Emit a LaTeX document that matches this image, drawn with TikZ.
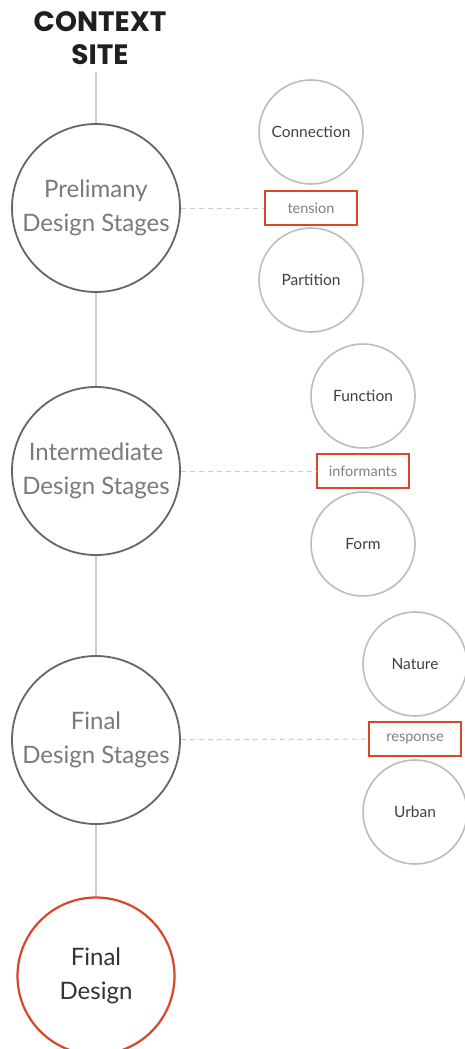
\documentclass[tikz,border=0pt]{standalone}
\usepackage{fontspec}
\setmainfont{Lato}
\newfontfamily\titlefont{Poppins}
\definecolor{accent}{HTML}{D9472B}
\definecolor{stagegray}{HTML}{666666}
\definecolor{stagetext}{HTML}{7A7A7A}
\definecolor{ringgray}{HTML}{BDBDBD}
\definecolor{linkgray}{HTML}{CCCCCC}
\begin{document}
\begin{tikzpicture}[x=1pt,y=-1pt,
  stage/.style={circle,draw=stagegray,line width=1.8pt,minimum size=168pt,inner sep=0pt,
    align=center,text=stagetext,font=\fontsize{24}{34}\selectfont},
  finalstage/.style={circle,draw=accent,line width=2.2pt,minimum size=157pt,inner sep=0pt,
    align=center,text=black!80,font=\fontsize{24}{34}\selectfont},
  facet/.style={circle,draw=ringgray,line width=1.6pt,minimum size=104pt,inner sep=0pt,
    text=black!75,font=\fontsize{15.5}{18}\selectfont},
  tag/.style={draw=accent,line width=1.6pt,minimum width=92pt,minimum height=34pt,inner sep=0pt,
    text=black!50,font=\fontsize{14.5}{16}\selectfont},
  spine/.style={draw=linkgray,line width=1.4pt},
  tie/.style={draw=linkgray,line width=1pt,dash pattern=on 5pt off 4pt}]
\useasboundingbox (0,0) rectangle (465,1049);
\fill[white] (0,0) rectangle (465,1049);

% title
\node[align=center,text=black!88,font=\titlefont\bfseries\fontsize{28}{33}\selectfont] (title) at (100,38) {CONTEXT\\SITE};
\coordinate (top) at (96,72);

% main stages
\node[stage] (s1) at (96,208) {Prelimany\\Design Stages};
\node[stage] (s2) at (96,471) {Intermediate\\Design Stages};
\node[stage] (s3) at (96,740) {Final\\Design Stages};
\node[finalstage] (s4) at (96,976) {Final\\Design};

\draw[spine] (top) -- (s1);
\draw[spine] (s1) -- (s2);
\draw[spine] (s2) -- (s3);
\draw[spine] (s3) -- (s4);

% facets of each stage
\node[facet] (c1) at (311,132) {Connection};
\node[tag] (t1) at (311,208) {tension};
\node[facet] (p1) at (311,280) {Partition};

\node[facet] (f2) at (363,396) {Function};
\node[tag] (t2) at (363,471) {informants};
\node[facet] (o2) at (363,544) {Form};

\node[facet] (n3) at (415,664) {Nature};
\node[tag] (t3) at (415,739) {response};
\node[facet] (u3) at (415,812) {Urban};

\draw[tie] (s1) -- (t1);
\draw[tie] (s2) -- (t2);
\draw[tie] (s3) -- (t3);
\end{tikzpicture}
\end{document}
